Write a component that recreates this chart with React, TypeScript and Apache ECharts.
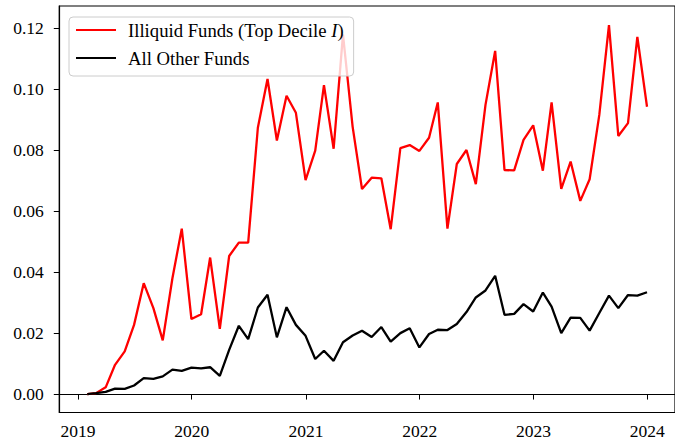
import React, { useEffect, useRef } from "react";
import * as echarts from "echarts";

// Month-end observation dates, Jan 2019 .. Dec 2023
const startYear = 2019;
const endYear = 2023;
const dates: string[] = [];
for (let y = startYear; y <= endYear; y++) {
  for (let m = 1; m <= 12; m++) {
    const d = new Date(y, m, 0).getDate();
    dates.push(`${y}-${String(m).padStart(2, "0")}-${String(d).padStart(2, "0")}`);
  }
}

const illiquidName = "Illiquid Funds (Top Decile I)";
const otherName = "All Other Funds";

const illiquid = [
  0.0, 0.0003, 0.0022, 0.0096, 0.014, 0.0227, 0.0364, 0.0282, 0.0176, 0.038, 0.0543, 0.0246,
  0.0262, 0.0448, 0.0214, 0.0453, 0.0497, 0.0497, 0.0874, 0.1034, 0.0832, 0.0979, 0.0923, 0.0702,
  0.0799, 0.1014, 0.0805, 0.118, 0.0877, 0.0673, 0.071, 0.0708, 0.0541, 0.0807, 0.0817, 0.0798,
  0.0841, 0.0957, 0.0543, 0.0755, 0.0801, 0.0689, 0.0949, 0.1126, 0.0735, 0.0734, 0.0834, 0.0882,
  0.0733, 0.0957, 0.0673, 0.0763, 0.0634, 0.0705, 0.0916, 0.1211, 0.0847, 0.0889, 0.1172, 0.0943,
];

const others = [
  0.0, 0.0003, 0.0007, 0.0018, 0.0017, 0.0028, 0.0052, 0.005, 0.0058, 0.008, 0.0076, 0.0087,
  0.0084, 0.0088, 0.006, 0.0145, 0.0224, 0.018, 0.0284, 0.0326, 0.0186, 0.0285, 0.0227, 0.0191,
  0.0115, 0.0142, 0.0109, 0.017, 0.0192, 0.0208, 0.0187, 0.022, 0.0172, 0.02, 0.0216, 0.0153,
  0.0197, 0.0211, 0.021, 0.023, 0.0269, 0.0317, 0.034, 0.0388, 0.026, 0.0263, 0.0295, 0.0271,
  0.0333, 0.0287, 0.02, 0.0251, 0.025, 0.0208, 0.0266, 0.0323, 0.0282, 0.0325, 0.0323, 0.0334,
];

const xTickYears = [2019, 2020, 2021, 2022, 2023, 2024];
const yTicks = [0, 0.02, 0.04, 0.06, 0.08, 0.1, 0.12];

const FONT = "Liberation Serif";

export default function App() {
  const ref = useRef<HTMLDivElement>(null);

  useEffect(() => {
    if (!ref.current) return;
    const chart = echarts.init(ref.current, undefined, { renderer: "svg" });

    const toMs = (s: string) => {
      const [y, m, d] = s.split("-").map(Number);
      return new Date(y, m - 1, d).getTime();
    };
    const xs = dates.map(toMs);
    const t0 = xs[0];
    const t1 = xs[xs.length - 1];
    const span = t1 - t0;
    const xMin = t0 - 0.05 * span;
    const xMax = t1 + 0.05 * span;

    const yLo = 0;
    const yHi = Math.max(...illiquid, ...others);
    const yPad = 0.05 * (yHi - yLo);

    const xTickValues = xTickYears.map((y) => new Date(y, 0, 1).getTime());

    const tickText = { fontFamily: FONT, fontSize: 17.5, color: "#000", lineHeight: 20 };
    const labelStyle = {
      fontFamily: FONT,
      fontSize: 17.5,
      color: "#000",
      rich: { t: tickText },
    };

    chart.setOption({
      animation: false,
      backgroundColor: "#ffffff",
      textStyle: { fontFamily: FONT },
      grid: {
        left: 59.3,
        right: -9.5,
        top: 6,
        bottom: 30.5,
        show: true,
        borderColor: "#000",
        borderWidth: 1.2,
        backgroundColor: "transparent",
      },
      legend: {
        orient: "vertical",
        left: 69,
        top: 17,
        padding: [2, 10, 7, 6],
        itemWidth: 40,
        itemHeight: 14,
        itemGap: 6,
        itemStyle: { opacity: 0 },
        backgroundColor: "rgba(255,255,255,0.8)",
        borderColor: "#cccccc",
        borderWidth: 1,
        borderRadius: 4,
        data: [illiquidName, otherName],
        formatter: (name: string) =>
          name === illiquidName ? "Illiquid Funds (Top Decile {i|I})" : name,
        textStyle: {
          fontFamily: FONT,
          fontSize: 18.7,
          color: "#000",
          lineHeight: 22,
          padding: [0, 0, 0, 7],
          rich: {
            i: { fontFamily: FONT, fontSize: 18.7, fontStyle: "italic", color: "#000", lineHeight: 22 },
          },
        },
      },
      xAxis: {
        type: "value",
        min: xMin,
        max: xMax,
        splitLine: { show: false },
        axisLine: { lineStyle: { color: "#000", width: 1.2 } },
        axisTick: {
          show: true,
          length: 5.5,
          lineStyle: { color: "#000", width: 1 },
          customValues: xTickValues,
        },
        axisLabel: {
          ...labelStyle,
          customValues: xTickValues,
          formatter: (v: number) => `{t|${new Date(v).getFullYear()}}`,
          margin: 8,
        },
      },
      yAxis: {
        type: "value",
        min: yLo - yPad,
        max: yHi + yPad + 0.0002,
        splitLine: { show: false },
        axisLine: { show: true, lineStyle: { color: "#000", width: 1.2 } },
        axisTick: {
          show: true,
          length: 5.5,
          lineStyle: { color: "#000", width: 1 },
          customValues: yTicks,
        },
        axisLabel: {
          ...labelStyle,
          customValues: yTicks,
          formatter: (v: number) => `{t|${v.toFixed(2)}}`,
          margin: 15.5,
        },
      },
      series: [
        {
          name: illiquidName,
          type: "line",
          data: xs.map((x, i) => [x, illiquid[i]]),
          showSymbol: false,
          symbol: "none",
          lineStyle: { color: "#ff0000", width: 2.3 },
          itemStyle: { color: "#ff0000" },
          z: 2,
        },
        {
          name: otherName,
          type: "line",
          data: xs.map((x, i) => [x, others[i]]),
          showSymbol: false,
          symbol: "none",
          lineStyle: { color: "#000000", width: 2.3 },
          itemStyle: { color: "#000000" },
          z: 2,
        },
      ],
    });

    return () => chart.dispose();
  }, []);

  return (
    <div
      ref={ref}
      style={{ position: "fixed", left: 0, top: 0, width: 675, height: 443 }}
    />
  );
}
